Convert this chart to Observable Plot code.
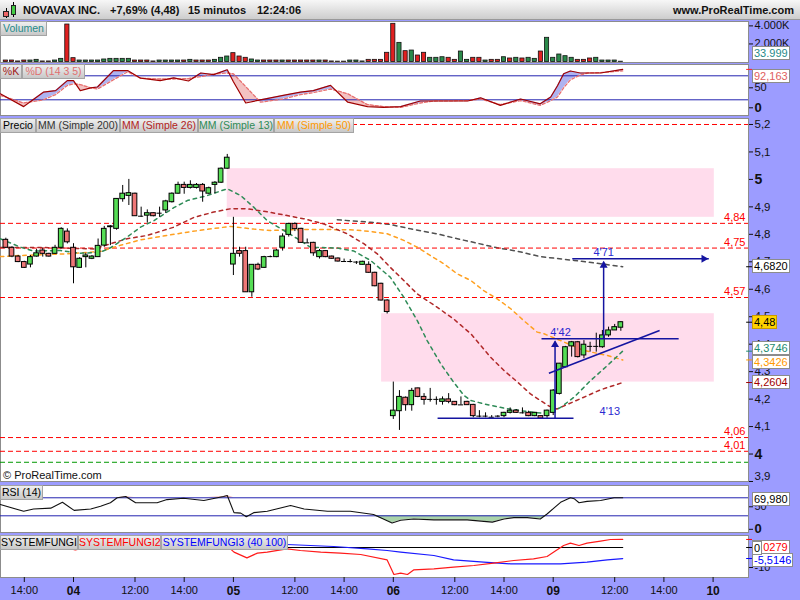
<!DOCTYPE html>
<html><head><meta charset="utf-8">
<script src="https://cdn.jsdelivr.net/npm/d3@7"></script>
<script src="https://cdn.jsdelivr.net/npm/@observablehq/plot@0.6"></script>
<style>
html,body{margin:0;padding:0;background:#fff;}
#root{position:relative;width:800px;height:600px;background:#9c9cff;overflow:hidden;font-family:"Liberation Sans",Arial,sans-serif;}
.abs{position:absolute;z-index:5;}
.lbl{position:absolute;z-index:5;box-sizing:border-box;height:15px;line-height:13px;font-size:10.5px;text-align:center;background:linear-gradient(#efefef,#c8c8c8);border:1px solid #a4a4a4;white-space:nowrap;}
.val{position:absolute;z-index:6;box-sizing:border-box;left:752px;height:14px;line-height:12px;font-size:11px;background:#fff;border:1px solid #8c8c8c;padding:0 1px;white-space:nowrap;}
.tt{position:absolute;z-index:6;top:4px;line-height:13px;font-size:11px;font-weight:bold;color:#111;white-space:nowrap;}
</style></head><body>
<div id="root">
 <div class="abs" style="left:0;top:0;width:800px;height:20px;box-sizing:border-box;background:linear-gradient(#f7f7f7,#cdcdcd);border-bottom:1px solid #999;"></div>
 <div class="abs" style="left:6px;top:8px;width:1px;height:10px;background:#000;z-index:6"></div>
 <div class="abs" style="left:3px;top:11px;width:6px;height:6px;box-sizing:border-box;background:#ee6666;border:1px solid #222;z-index:7"></div>
 <div class="abs" style="left:13px;top:2px;width:1px;height:15px;background:#000;z-index:6"></div>
 <div class="abs" style="left:11px;top:5px;width:5px;height:10px;box-sizing:border-box;background:#44cc44;border:1px solid #222;z-index:7"></div>
 <div class="tt" style="left:23px">NOVAVAX INC.</div>
 <div class="tt" style="left:110px">+7,69% (4,48)</div>
 <div class="tt" style="left:188px">15 minutos</div>
 <div class="tt" style="left:257px">12:24:06</div>
 <div class="tt" style="right:6px">www.ProRealTime.com</div>

 <div class="lbl" style="left:0;top:21px;width:47px;color:#1f8a8a">Volumen</div>
 <div class="lbl" style="left:0;top:64px;width:22px;color:#a01818">%K</div>
 <div class="lbl" style="left:22px;top:64px;width:63px;color:#e07070">%D (14 3 5)</div>
 <div class="lbl" style="left:0;top:118px;width:36px;color:#000">Precio</div>
 <div class="lbl" style="left:36px;top:118px;width:84px;color:#333">MM (Simple 200)</div>
 <div class="lbl" style="left:120px;top:118px;width:78px;color:#b22222">MM (Simple 26)</div>
 <div class="lbl" style="left:198px;top:118px;width:76px;color:#2e8b57">MM (Simple 13)</div>
 <div class="lbl" style="left:274px;top:118px;width:80px;color:#ff9900">MM (Simple 50)</div>
 <div class="lbl" style="left:0;top:485px;width:43px;color:#000">RSI (14)</div>
 <div class="lbl" style="left:0;top:535px;width:78px;color:#000">SYSTEMFUNGI</div>
 <div class="lbl" style="left:78px;top:535px;width:83px;color:#ff0000">SYSTEMFUNGI2</div>
 <div class="lbl" style="left:161px;top:535px;width:127px;color:#0000ff">SYSTEMFUNGI3 (40 100)</div>
 <div class="abs" style="left:3px;top:469px;font-size:11px;color:#111;">© ProRealTime.com</div>

 <div class="val" style="top:46px;color:#1f8a8a">33.999</div>
 <div class="val" style="top:69px;color:#e06060">92,163</div>
 <div class="val" style="top:259px;color:#000">4,6820</div>
 <div class="val" style="top:315px;color:#000;background:#ffd200;border-color:#c89a00">4,48</div>
 <div class="val" style="top:341px;color:#1e8a6e">4,3746</div>
 <div class="val" style="top:355px;color:#ff9900">4,3426</div>
 <div class="val" style="top:375px;color:#a00000">4,2604</div>
 <div class="val" style="top:492px;color:#000">69,980</div>
 <div class="val" style="top:540px;color:#ff0000">4,0279</div>
 <div class="val" style="top:541px;color:#000;z-index:7">0</div>
 <div class="val" style="top:553px;color:#0000ff">-5,5146</div>
</div>
<script>
// ---------------- DATA ----------------
const barIndex = d3.range(-11, 90); // 15-minute bars, 0 = 04 09:30
const openP = [4.780,4.751,4.719,4.699,4.690,4.719,4.741,4.729,4.729,4.751,4.810,
 4.751,4.678,4.717,4.711,4.717,4.759,4.826,4.820,4.928,4.940,4.948,4.866,4.868,4.877,4.877,4.887,4.917,4.948,4.980,4.969,4.969,4.980,4.948,4.980,4.988,5.039,
 4.690,4.739,4.739,4.589,4.689,4.678,4.719,4.717,4.751,4.798,4.838,4.820,4.769,4.769,4.717,4.739,4.719,4.712,4.701,4.701,4.699,4.689,4.689,4.660,4.620,4.559,
 4.138,4.156,4.205,4.178,4.239,4.208,4.199,4.199,4.190,4.199,4.190,4.179,4.190,4.179,4.138,4.138,4.134,4.138,4.138,4.150,4.158,4.150,4.150,4.138,4.138,4.138,
 4.150,4.219,4.316,4.392,4.407,4.359,4.392,4.392,4.389,4.432,4.450,4.460];
const highP = [4.786,4.755,4.723,4.702,4.723,4.745,4.750,4.731,4.760,4.824,4.820,
 4.766,4.715,4.731,4.723,4.783,4.829,4.832,4.930,4.978,5.000,4.950,4.899,4.889,4.878,4.899,4.924,4.951,4.990,4.990,4.995,4.985,4.985,4.972,4.992,5.042,5.091,
 4.862,4.753,4.753,4.689,4.695,4.720,4.721,4.745,4.802,4.840,4.842,4.822,4.783,4.771,4.745,4.741,4.721,4.714,4.710,4.708,4.701,4.702,4.700,4.662,4.622,4.562,
 4.262,4.231,4.208,4.239,4.240,4.220,4.239,4.208,4.208,4.220,4.191,4.208,4.192,4.181,4.158,4.150,4.140,4.140,4.152,4.168,4.162,4.168,4.156,4.152,4.140,4.160,
 4.235,4.330,4.392,4.410,4.410,4.413,4.407,4.440,4.450,4.462,4.472,4.482];
const lowP = [4.748,4.715,4.697,4.676,4.678,4.717,4.717,4.717,4.727,4.747,4.765,
 4.620,4.676,4.678,4.708,4.717,4.753,4.759,4.815,4.917,4.905,4.866,4.862,4.841,4.864,4.862,4.876,4.914,4.946,4.946,4.965,4.965,4.917,4.946,4.948,4.985,5.037,
 4.650,4.717,4.589,4.571,4.668,4.676,4.715,4.715,4.739,4.790,4.810,4.767,4.767,4.720,4.710,4.715,4.709,4.699,4.698,4.696,4.690,4.688,4.658,4.609,4.557,4.510,
 4.126,4.086,4.156,4.156,4.205,4.178,4.189,4.178,4.178,4.183,4.176,4.178,4.177,4.132,4.132,4.132,4.132,4.132,4.132,4.146,4.148,4.146,4.136,4.136,4.127,4.130,
 4.140,4.215,4.314,4.353,4.350,4.347,4.371,4.371,4.385,4.425,4.450,4.447];
const closeP = [4.751,4.719,4.699,4.678,4.717,4.731,4.729,4.719,4.751,4.820,4.771,
 4.680,4.711,4.723,4.719,4.758,4.820,4.829,4.929,4.948,4.950,4.866,4.866,4.877,4.866,4.877,4.920,4.948,4.980,4.969,4.980,4.980,4.956,4.968,4.988,5.039,5.079,
 4.729,4.729,4.589,4.689,4.672,4.717,4.719,4.741,4.792,4.838,4.819,4.769,4.769,4.731,4.739,4.717,4.711,4.701,4.701,4.701,4.699,4.700,4.660,4.611,4.559,4.517,
 4.158,4.208,4.178,4.230,4.208,4.197,4.199,4.199,4.199,4.190,4.178,4.179,4.178,4.138,4.138,4.138,4.134,4.138,4.150,4.158,4.150,4.150,4.138,4.150,4.129,4.158,
 4.231,4.329,4.389,4.407,4.353,4.398,4.392,4.392,4.432,4.450,4.462,4.480];
const volumeK = [165,165,60,165,165,240,60,60,165,350,4150,
 425,165,165,165,165,280,350,350,350,350,165,165,165,60,165,165,165,165,165,240,165,165,165,240,465,610,
 980,610,465,280,165,165,165,165,165,165,165,165,165,165,165,165,60,40,40,165,165,60,240,240,240,1020,
 4230,2120,1200,1270,720,1020,465,465,530,465,240,1160,240,465,465,165,240,240,530,390,465,390,465,350,1160,2680,
 465,830,645,465,240,240,390,465,165,165,165,34];
const volumeUp = [0,0,0,0,1,1,0,0,1,1,0,
 0,1,1,1,1,1,1,1,1,1,0,0,0,0,1,1,1,1,0,1,0,0,0,1,1,1,
 0,0,0,1,1,0,0,0,1,0,0,0,0,0,1,0,0,0,0,1,1,1,0,0,0,0,
 0,1,0,1,0,0,1,1,1,0,0,1,1,0,0,1,0,0,1,0,1,0,1,1,0,1,
 1,1,1,1,0,0,0,1,1,1,1,1];

const ma13Idx = [-11.9,-8.6,-6.5,-2.1,1.1,4.4,6,8.7,10.9,13.1,16.3,18.5,21.7,25,27.2,29.3,31.5,34.2,36.4,38.5,42.9,45.6,48.3,51.5,53.7,55.9,57.5,59.7,61.8,63.5,64.6,66.7,70,72.7,75.4,77.5,79.2,81.4,84.1,86.8,89.3];
const ma13Val = [4.784,4.753,4.739,4.741,4.731,4.735,4.751,4.790,4.826,4.850,4.897,4.923,4.941,4.966,4.941,4.899,4.850,4.814,4.784,4.753,4.750,4.739,4.705,4.644,4.571,4.486,4.413,4.329,4.262,4.213,4.195,4.183,4.167,4.158,4.150,4.148,4.170,4.207,4.268,4.322,4.3746];
const ma26Idx = [-11.9,-4.8,3.3,8.7,12,16.3,19.6,22.8,25.5,28.2,31.5,37.4,40.7,44.5,47.2,49.4,51.5,53.7,55.9,59.1,61.8,64.6,67.8,70,72.2,74.3,75.9,77.3,78.6,82.4,85.7,89.3];
const ma26Val = [4.752,4.752,4.747,4.784,4.796,4.826,4.862,4.881,4.893,4.893,4.882,4.857,4.838,4.802,4.766,4.729,4.680,4.632,4.583,4.535,4.492,4.438,4.353,4.304,4.262,4.219,4.195,4.175,4.164,4.201,4.234,4.2604];
const ma50Idx = [-11.9,-8.6,-1,4.4,7.6,10.9,15.2,18.5,21.7,25.5,29.3,32,36,40.2,45.6,48.5,51,53.7,55.9,58,60.2,62.4,64.6,66.7,68.9,71.1,73.2,75.4,76.5,79.2,83,86.8,89.3];
const ma50Val = [4.719,4.723,4.729,4.738,4.760,4.780,4.796,4.808,4.818,4.829,4.819,4.814,4.817,4.818,4.816,4.810,4.802,4.778,4.753,4.723,4.693,4.656,4.632,4.595,4.565,4.529,4.486,4.444,4.438,4.413,4.377,4.359,4.3426];
const ma200Idx = [42.9,48.3,51.5,54.8,59.1,62.4,65.6,68.9,72.1,75.9,81.4,85.7,89.3];
const ma200Val = [4.853,4.844,4.836,4.820,4.802,4.784,4.768,4.751,4.739,4.719,4.705,4.693,4.682];

const zoneStart = [25.0, 50.1], zoneEnd = [104.2, 104.2];
const zoneLow = [4.862, 4.262], zoneHigh = [5.039, 4.511];
const redLevels = [5.2, 4.84, 4.75, 4.57, 4.06, 4.01];
const labeledLevels = [4.84, 4.75, 4.57, 4.06, 4.01];
const greenLevels = [3.97];

const segX1 = [59.2, 76.1, 77.3, 78.3, 86.2, 81.1];
const segY1 = [4.13, 4.42, 4.294, 4.13, 4.42, 4.711];
const segX2 = [81.3, 98.4, 95.3, 78.3, 86.2, 103.3];
const segY2 = [4.13, 4.42, 4.45, 4.41, 4.70, 4.711];
const upHeadX = [78.3, 86.2], upHeadY = [4.416, 4.705];
const rightHeadX = [103.3], rightHeadY = [4.711];
const noteX = [87.2, 79.2, 86.2], noteY = [4.155, 4.441, 4.734], noteText = ["4'13", "4'42", "4'71"];

const priceTicks = [5.2, 5.1, 5.0, 4.9, 4.8, 4.7, 4.6, 4.5, 4.4, 4.3, 4.2, 4.1, 4.0, 3.9];
const lastVals = [4.682, 4.48, 4.3746, 4.3426, 4.2604];
const lastColors = ["#000", "#000", "#1e8a6e", "#ff9900", "#a00000"];

const stochIdx = [-11.9,-8.1,-4.9,-2.9,-1.0,0,1.1,2.8,3.9,6.5,8.8,10.9,14.1,16.3,18.7,20.7,22.8,25.0,26.0,28.0,30.4,34.1,36.9,39.0,41.8,44.6,47.8,50.4,53.2,56.4,58.5,64.1,66.2,69.4,72.7,75.9,77.6,78.7,79.7,80.8,82.4,83.6,85.7,89.3];
const stochK = [35,3,39,43,68,68,43,50,52,93,93,74,68,75,67,87,83,95,65,12,20,31,39,43,56,14,3,1,3,17,17,17,25,6,22,10,27,55,85,92,87,87,87,96];
const stochD = [31,12,20,33,56,60,58,50,47,70,90,74,72,72,73,78,84,87,85,53,14,22,33,38,47,35,8,3,1,12,17,18,22,8,18,6,18,27,50,70,82,87,88,92.2];

const rsiIdx = [-11.9,-8.1,-6.5,-3.7,-1.8,0.1,2.8,4.4,6.0,7.1,8.5,10.1,13.6,15.2,17.9,21.2,24.4,25.0,26.1,27.2,28.1,29.3,31.5,35.3,37.5,41.3,45.0,48.8,51.8,53.2,55.3,58.6,64.0,68.1,70.0,71.6,73.8,75.9,77.0,79.2,80.8,81.4,82.2,83.5,85.7,87.9,89.3];
const rsiVal = [55,40,45,47,60,42,45,51,59,70,73,59,59,66,69,64,73,75,37,36,28,37,40,53,45,40,40,33,14,20,23,21,21,16,23,26,26,23,34,60,70,68,59,62,64,70,69.98];

const sfRedIdx = [-11.9,-2.1,0.3,2.8,14.1,25.2,26.1,28.2,29.9,31.5,34.7,36.9,40.2,43.4,46.7,51.0,52.1,53.2,54.3,55.3,58.6,61.8,65.1,68.3,71.6,74.8,77.0,78.1,79.7,80.8,82.2,83.5,85.7,87.3,89.3];
const sfRed = [0.5,0.5,-1.2,0.5,1.5,0.2,-2.3,-5.2,-2.8,-2.3,-0.7,-1.5,-2.3,-2.8,-3.5,-6.2,-13.5,-12.8,-13.5,-11.2,-10.7,-9.8,-9.0,-7.8,-6.5,-5.7,-4.5,-2.3,1.0,2.2,1.0,2.2,3.2,4.0,4.03];
const sfBlueIdx = [-11.9,4.4,20.7,34.7,42.3,47.8,51.0,53.2,58.6,61.8,66.7,71.1,79.2,83.5,86.8,89.3];
const sfBlue = [3,3,2.5,1.5,0.5,-0.7,-1.5,-2.3,-4,-6.2,-7.3,-8.2,-8.2,-7.3,-6.2,-5.5146];
const sfBlackIdx = [-11.9, 89.3], sfBlack = [0, 0];

const timeTickIdx = [-8, 10, 18, 36, 44, 62, 70, 88, 96];
const timeTickLabel = ["14:00","12:00","14:00","12:00","14:00","12:00","14:00","12:00","14:00"];
const dayTickIdx = [0, 26, 52, 78, 104];
const dayTickLabel = ["04","05","06","09","10"];

// ---------------- RENDER ----------------
const root = document.getElementById("root");
const FONT = '"Liberation Sans", Arial, sans-serif';
const X0 = -73 / 6.15, X1 = 675 / 6.15;
const fmt = (v, d) => v.toFixed(d).replace(".", ",");
const pts = (xs, ys) => xs.map((x, k) => ({x, y: ys[k]}));
const GREEN = "#55dd55", RED = "#ee7777", NAVY = "#1414a0", LINE = "#2323b0";

function addPlot(top, height, yDomain, marks, marginBottom = 0) {
  const p = Plot.plot({
    width: 800, height, marginLeft: 0, marginRight: 52, marginTop: 0, marginBottom,
    x: {domain: [X0, X1], axis: null, label: null},
    y: {domain: yDomain, axis: null, label: null},
    style: {background: "transparent", overflow: "visible", fontFamily: FONT, fontSize: "11px", color: "#111"},
    marks
  });
  p.style.position = "absolute"; p.style.left = "0px"; p.style.top = top + "px"; p.style.zIndex = 1;
  root.appendChild(p);
  return p;
}
const yTicks = (vals) => Plot.axisY(vals, {anchor: "right", tickSize: 4, tickFormat: () => "", label: null});
const marker = (vals, colors) => Plot.ruleY(vals, {y: d => d, x1: X1 - 0.3, x2: X1 + 0.65, stroke: (d, i) => colors[i]});

// Volume
const vols = barIndex.map((i, k) => ({i, v: volumeK[k], up: volumeUp[k]}));
addPlot(21, 41, [-55, 4485], [
  Plot.frame({fill: "white", stroke: "#8c8c8c"}),
  Plot.rect(vols, {x1: d => d.i - 0.34, x2: d => d.i + 0.34, y1: 0, y2: "v",
    fill: d => d.up ? "#2a8a4a" : "#e02020", stroke: "#111", strokeWidth: 0.8}),
  yTicks([2000, 4000]),
  Plot.text([2000, 4000], {y: d => d, text: d => d3.format(",")(d).replace(",", ".") + "K", frameAnchor: "right", textAnchor: "start", dx: 6, fontSize: 11})
]);

// Stochastic
const stoch = stochIdx.map((i, k) => ({i, k: stochK[k], d: stochD[k]}));
const stochFill = Plot.differenceY
  ? Plot.differenceY(stoch, {x: "i", y1: "d", y2: "k", positiveFill: "#aeb3f0", negativeFill: "#f3c2c2", fillOpacity: 1, stroke: "none", strokeOpacity: 0})
  : Plot.areaY(stoch, {x: "i", y1: "d", y2: "k", fill: "#f3c2c2"});
addPlot(64, 51, [-19.25, 108.25], [
  Plot.frame({fill: "white", stroke: "#8c8c8c"}),
  stochFill,
  Plot.ruleY([20, 80], {stroke: LINE}),
  Plot.line(stoch, {x: "i", y: "d", stroke: "#e87070", strokeWidth: 1.3, strokeDasharray: "3,2"}),
  Plot.line(stoch, {x: "i", y: "k", stroke: "#a00000", strokeWidth: 1.2}),
  yTicks([0, 50]),
  Plot.text([50], {y: d => d, text: d => String(d), frameAnchor: "right", textAnchor: "start", dx: 6, fontSize: 11}),
  Plot.text([0], {y: d => d, text: d => String(d), frameAnchor: "right", textAnchor: "start", dx: 6, fontSize: 13, fontWeight: "bold"}),
  marker([96], ["#ff2020"])
]);

// Price
const candles = barIndex.map((i, k) => ({i, o: openP[k], h: highP[k], l: lowP[k], c: closeP[k]}));
const bodies = candles.filter(d => Math.abs(d.c - d.o) >= 0.003);
const dojis = candles.filter(d => Math.abs(d.c - d.o) < 0.003);
const zones = zoneStart.map((s, k) => ({x1: s, x2: zoneEnd[k], lo: zoneLow[k], hi: zoneHigh[k]}));
const segs = segX1.map((x, k) => ({x1: x, y1: segY1[k], x2: segX2[k], y2: segY2[k]}));
const notes = noteX.map((x, k) => ({x, y: noteY[k], t: noteText[k]}));
addPlot(118, 363, [3.9, 5.2218], [
  Plot.frame({fill: "white", stroke: "#8c8c8c"}),
  Plot.line(pts(ma200Idx, ma200Val), {x: "x", y: "y", stroke: "#505050", strokeWidth: 1.5, strokeDasharray: "4,4"}),
  Plot.rect(zones, {x1: "x1", x2: "x2", y1: "lo", y2: "hi", fill: "#ffdcec"}),
  Plot.ruleY(redLevels, {y: d => d, stroke: "#ff0000", strokeDasharray: "5,3"}),
  Plot.ruleY(greenLevels, {y: d => d, stroke: "#009900", strokeDasharray: "5,3"}),
  Plot.line(pts(ma50Idx, ma50Val), {x: "x", y: "y", stroke: "#ffa020", strokeWidth: 1.5, strokeDasharray: "3.5,4"}),
  Plot.line(pts(ma26Idx, ma26Val), {x: "x", y: "y", stroke: "#b02828", strokeWidth: 1.5, strokeDasharray: "3.5,4"}),
  Plot.line(pts(ma13Idx, ma13Val), {x: "x", y: "y", stroke: "#2e8b57", strokeWidth: 1.5, strokeDasharray: "3.5,4"}),
  Plot.ruleX(candles, {x: "i", y1: "l", y2: "h", stroke: "#000"}),
  Plot.rect(bodies, {x1: d => d.i - 0.38, x2: d => d.i + 0.38, y1: "o", y2: "c", fill: d => d.c >= d.o ? GREEN : RED, stroke: "#000", strokeWidth: 1}),
  Plot.ruleY(dojis, {y: "c", x1: d => d.i - 0.42, x2: d => d.i + 0.42, stroke: "#000"}),
  Plot.link(segs, {x1: "x1", y1: "y1", x2: "x2", y2: "y2", stroke: NAVY, strokeWidth: 1.5}),
  Plot.dot(pts(upHeadX, upHeadY), {x: "x", y: "y", symbol: "triangle2", r: 3.8, fill: NAVY, dy: 5}),
  Plot.dot(pts(rightHeadX, rightHeadY), {x: "x", y: "y", symbol: "triangle2", r: 3.8, fill: NAVY, rotate: 90, dx: -5}),
  Plot.text(notes, {x: "x", y: "y", text: "t", fill: "#2a2ad0", fontSize: 11}),
  Plot.text(labeledLevels, {y: d => d, text: d => fmt(d, 2), frameAnchor: "right", textAnchor: "end", dx: -3, dy: -6, fill: "#ff0000", fontSize: 11}),
  yTicks(priceTicks),
  Plot.text(priceTicks.filter(d => !Number.isInteger(d) && d > 3.95), {y: d => d, text: d => fmt(d, 1), frameAnchor: "right", textAnchor: "start", dx: 6, fontSize: 11.5}),
  Plot.text(priceTicks.filter(d => d < 3.95), {y: d => d, text: d => fmt(d, 1), frameAnchor: "right", textAnchor: "start", dx: 6, dy: -5, fontSize: 11.5}),
  Plot.text(priceTicks.filter(d => Number.isInteger(d)), {y: d => d, text: d => String(d), frameAnchor: "right", textAnchor: "start", dx: 6, fontSize: 14, fontWeight: "bold"}),
  marker(lastVals, lastColors)
]);

// RSI
const rsi = rsiIdx.map((i, k) => ({i, v: rsiVal[k]}));
addPlot(485, 47, [-7.1, 97.3], [
  Plot.frame({fill: "white", stroke: "#8c8c8c"}),
  Plot.areaY(rsi, {x: "i", y1: 30, y2: d => Math.min(d.v, 30), fill: "#a9d3a9"}),
  Plot.areaY(rsi, {x: "i", y1: 70, y2: d => Math.max(d.v, 70), fill: "#f0b4b4"}),
  Plot.ruleY([30, 70], {stroke: LINE}),
  Plot.line(rsi, {x: "i", y: "v", stroke: "#111", strokeWidth: 1.1}),
  yTicks([0, 50]),
  Plot.text([50], {y: d => d, text: d => String(d), frameAnchor: "right", textAnchor: "start", dx: 6, fontSize: 11}),
  Plot.text([0], {y: d => d, text: d => String(d), frameAnchor: "right", textAnchor: "start", dx: 6, fontSize: 13, fontWeight: "bold"})
]);

// SYSTEMFUNGI + x axis
const tMap = new Map(timeTickIdx.map((d, k) => [d, timeTickLabel[k]]));
const dMap = new Map(dayTickIdx.map((d, k) => [d, dayTickLabel[k]]));
addPlot(535, 65, [-15, 6], [
  Plot.frame({fill: "white", stroke: "#8c8c8c"}),
  Plot.line(pts(sfBlackIdx, sfBlack), {x: "x", y: "y", stroke: "#000", strokeWidth: 1.2}),
  Plot.line(pts(sfBlueIdx, sfBlue), {x: "x", y: "y", stroke: "#1a1aff", strokeWidth: 1.2}),
  Plot.line(pts(sfRedIdx, sfRed), {x: "x", y: "y", stroke: "#ff1a1a", strokeWidth: 1.2}),
  yTicks([0, -10]),
  Plot.text([-10], {y: d => d, text: d => String(d), frameAnchor: "right", textAnchor: "start", dx: 6, fontSize: 11}),
  marker([4.03, -5.5146, 0], ["#ff0000", "#0000ff", "#000"]),
  Plot.axisX(timeTickIdx, {anchor: "bottom", tickSize: 5, tickPadding: 4, tickFormat: d => tMap.get(d), fontSize: 11, label: null}),
  Plot.axisX(dayTickIdx, {anchor: "bottom", tickSize: 5, tickPadding: 4, tickFormat: d => dMap.get(d), fontSize: 12, fontWeight: "bold", label: null})
], 23);
</script>
</body></html>
